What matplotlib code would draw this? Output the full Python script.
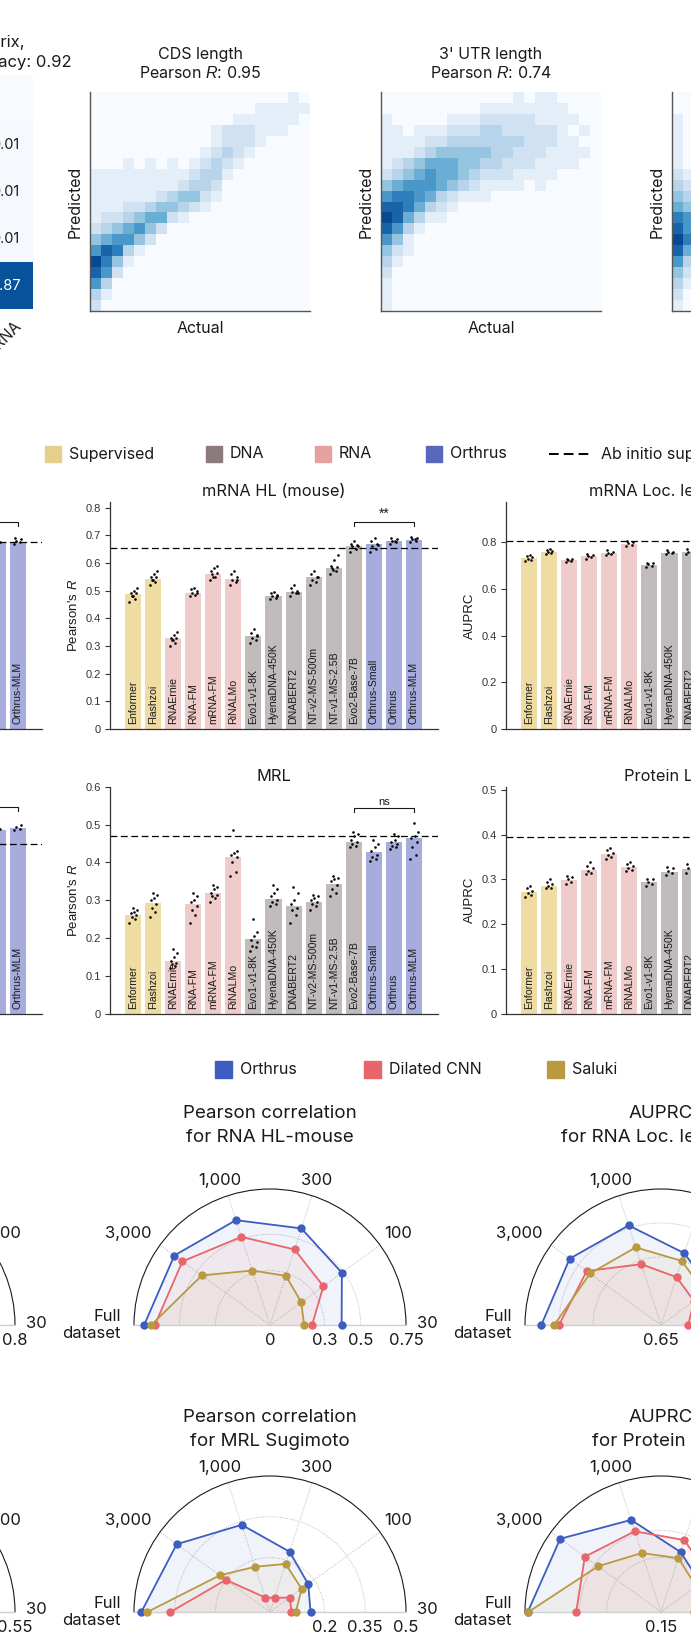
import numpy as np
import matplotlib
matplotlib.use('Agg')
import matplotlib.pyplot as plt
import matplotlib.transforms as mtransforms
from matplotlib.patches import Rectangle
from matplotlib.lines import Line2D

plt.rcParams['font.family'] = ['Inter', 'DejaVu Sans']
plt.rcParams['mathtext.fontset'] = 'custom'
plt.rcParams['mathtext.rm'] = 'Inter'
plt.rcParams['mathtext.it'] = 'Liberation Sans:italic'
plt.rcParams['text.color'] = '#1a1a1a'
plt.rcParams['axes.labelcolor'] = '#1a1a1a'

W, H = 691, 1645
BARFONT = ['Liberation Sans', 'DejaVu Sans']
INK = '#1a1a1a'

# ---------------- data ----------------
# confusion matrix, last column only is in view
conf_last = [0.0, 0.01, 0.01, 0.01, 0.87]

# 2D histogram densities (0-9), rows top -> bottom
cds_grid = [
    "00000000000000000010",
    "00000000000000011111",
    "00000000000001111110",
    "00000000000122211100",
    "00000000000122210000",
    "00000000001232100000",
    "00010101012321000000",
    "11111111123310000000",
    "11111111233200000000",
    "11111123442100000000",
    "11122344321000000000",
    "12234552100000000000",
    "23456420000000000000",
    "45664200000000000000",
    "68731000000000000000",
    "97410000000000000000",
    "86200000000000000000",
    "63000000000000000000",
    "31000000000000000000",
    "20000000000000000000",
]
utr_grid = [
    "00000000000010110000",
    "00000000011111111000",
    "10000011122222111100",
    "11011122233222221010",
    "11112233333332221100",
    "11123444443322211110",
    "12345554433222111100",
    "23456554322211110000",
    "45666543211110100000",
    "67765321110000000000",
    "88753210000000000000",
    "98531100000000000000",
    "86310000000000000000",
    "64100000000000000000",
    "42100000000000000000",
    "31000000000000000000",
    "20000000000000000000",
    "10000000000000000000",
    "10000000000000000000",
    "10000000000000000000",
]
third_grid = [
    "000", "000", "100", "100", "100", "100", "100", "210", "321", "432",
    "543", "764", "864", "973", "852", "631", "420", "310", "200", "100",
]

models = ['Enformer', 'Flashzoi', 'RNAErnie', 'RNA-FM', 'mRNA-FM', 'RiNALMo',
          'Evo1-v1-8K', 'HyenaDNA-450K', 'DNABERT2', 'NT-v2-MS-500m', 'NT-v1-MS-2.5B',
          'Evo2-Base-7B', 'Orthrus-Small', 'Orthrus', 'Orthrus-MLM']
groups = ['sup', 'sup', 'rna', 'rna', 'rna', 'rna', 'dna', 'dna', 'dna', 'dna', 'dna',
          'dna', 'orth', 'orth', 'orth']

hl_mouse = [0.488, 0.543, 0.327, 0.492, 0.560, 0.543, 0.335, 0.481, 0.496, 0.549,
            0.582, 0.662, 0.667, 0.678, 0.683]
hl_mouse_reps = [
    [0.46, 0.47, 0.48, 0.49, 0.49, 0.50, 0.51, 0.48],
    [0.52, 0.53, 0.54, 0.55, 0.55, 0.56, 0.57, 0.54],
    [0.30, 0.31, 0.32, 0.33, 0.33, 0.34, 0.35, 0.32],
    [0.48, 0.485, 0.49, 0.50, 0.505, 0.51, 0.49],
    [0.54, 0.55, 0.56, 0.565, 0.57, 0.58, 0.59, 0.55],
    [0.52, 0.53, 0.54, 0.55, 0.56, 0.57, 0.54],
    [0.31, 0.32, 0.33, 0.34, 0.345, 0.36, 0.335],
    [0.47, 0.475, 0.48, 0.485, 0.49, 0.495, 0.48],
    [0.48, 0.49, 0.495, 0.50, 0.51, 0.52, 0.49],
    [0.52, 0.53, 0.54, 0.55, 0.56, 0.57, 0.55],
    [0.56, 0.57, 0.58, 0.585, 0.59, 0.61, 0.63, 0.575],
    [0.64, 0.65, 0.66, 0.665, 0.67, 0.68, 0.66],
    [0.64, 0.65, 0.66, 0.67, 0.68, 0.69, 0.665],
    [0.67, 0.675, 0.68, 0.685, 0.69, 0.68],
    [0.675, 0.68, 0.685, 0.69, 0.695, 0.685],
]
mrl = [0.262, 0.294, 0.138, 0.291, 0.320, 0.414, 0.197, 0.304, 0.285, 0.295,
       0.342, 0.454, 0.427, 0.454, 0.465]
mrl_reps = [
    [0.24, 0.25, 0.255, 0.26, 0.265, 0.27, 0.275, 0.28],
    [0.255, 0.27, 0.28, 0.29, 0.30, 0.305, 0.315, 0.32],
    [0.12, 0.125, 0.13, 0.135, 0.14, 0.15, 0.16, 0.17],
    [0.24, 0.26, 0.275, 0.285, 0.295, 0.30, 0.31, 0.32],
    [0.295, 0.305, 0.31, 0.315, 0.32, 0.33, 0.335, 0.34],
    [0.365, 0.375, 0.40, 0.415, 0.42, 0.425, 0.43, 0.485],
    [0.165, 0.175, 0.18, 0.19, 0.195, 0.205, 0.215, 0.25],
    [0.285, 0.29, 0.295, 0.30, 0.31, 0.32, 0.33, 0.34],
    [0.24, 0.26, 0.275, 0.28, 0.29, 0.30, 0.32, 0.335],
    [0.275, 0.285, 0.29, 0.295, 0.30, 0.305, 0.31, 0.315],
    [0.31, 0.32, 0.33, 0.34, 0.35, 0.355, 0.36, 0.365],
    [0.44, 0.445, 0.45, 0.455, 0.46, 0.47, 0.475, 0.48],
    [0.405, 0.41, 0.415, 0.42, 0.43, 0.44, 0.45, 0.46],
    [0.435, 0.44, 0.445, 0.45, 0.455, 0.46, 0.47, 0.475],
    [0.41, 0.42, 0.44, 0.455, 0.465, 0.47, 0.48, 0.505],
]
loc_ietswaart = [0.733, 0.758, 0.724, 0.740, 0.754, 0.794, 0.704, 0.755, 0.758]
loc_reps = [
    [0.72, 0.725, 0.73, 0.735, 0.74, 0.745],
    [0.75, 0.755, 0.76, 0.762, 0.765, 0.77],
    [0.715, 0.72, 0.725, 0.73, 0.728],
    [0.73, 0.735, 0.74, 0.745, 0.75],
    [0.745, 0.75, 0.755, 0.76, 0.765],
    [0.785, 0.79, 0.795, 0.80, 0.805],
    [0.695, 0.70, 0.705, 0.71, 0.712],
    [0.75, 0.755, 0.758, 0.76, 0.765],
    [0.75, 0.755, 0.76, 0.765, 0.77],
]
prot_loc = [0.271, 0.285, 0.298, 0.321, 0.356, 0.327, 0.295, 0.316, 0.324]
prot_reps = [
    [0.26, 0.265, 0.27, 0.275, 0.28, 0.285],
    [0.28, 0.282, 0.285, 0.29, 0.295, 0.30],
    [0.29, 0.295, 0.30, 0.305, 0.308],
    [0.312, 0.315, 0.32, 0.325, 0.33, 0.338],
    [0.345, 0.35, 0.355, 0.36, 0.365, 0.37],
    [0.318, 0.322, 0.326, 0.33, 0.335, 0.338],
    [0.285, 0.29, 0.295, 0.30, 0.302],
    [0.31, 0.315, 0.32, 0.325, 0.328],
    [0.315, 0.32, 0.325, 0.33, 0.335],
]
# left-hand panels, only the last two bars are in view
hl_other = [0.676, 0.676]
hl_other_reps = [[0.672, 0.676, 0.68], [0.67, 0.675, 0.68, 0.685, 0.69]]
mrl_other = [0.487, 0.491]
mrl_other_reps = [[0.485, 0.49], [0.485, 0.49, 0.495, 0.50]]

# radar charts: spokes Full, 3000, 1000, 300, 100, 30
spoke_deg = [180, 144, 108, 72, 36, 0]
spoke_lab = ['Full\ndataset', '3,000', '1,000', '300', '100', '30']
hl_orthrus = [0.694, 0.652, 0.608, 0.560, 0.490, 0.395]
hl_cnn = [0.635, 0.597, 0.511, 0.438, 0.364, 0.232]
hl_saluki = [0.655, 0.465, 0.316, 0.285, 0.213, 0.188]
mrl_orthrus = [0.473, 0.424, 0.337, 0.233, 0.174, 0.149]
mrl_cnn = [0.366, 0.201, 0.056, 0.055, 0.090, 0.079]
mrl_saluki = [0.451, 0.229, 0.175, 0.186, 0.144, 0.095]
rloc_orthrus = [0.826, 0.816, 0.804, 0.761, 0.740, 0.720]
rloc_cnn = [0.800, 0.785, 0.744, 0.724, 0.710, 0.690]
rloc_saluki = [0.807, 0.779, 0.770, 0.749, 0.730, 0.710]
ploc_orthrus = [0.395, 0.379, 0.328, 0.266, 0.240, 0.220]
ploc_cnn = [0.306, 0.323, 0.306, 0.289, 0.260, 0.230]
ploc_saluki = [0.394, 0.293, 0.264, 0.254, 0.230, 0.210]

# ---------------- style ----------------
bar_col = {'sup': '#efdca3', 'rna': '#efcbc9', 'dna': '#c1bbbc', 'orth': '#a6acdc'}
leg_col = {'sup': '#e5cf8d', 'dna': '#8b7a7e', 'rna': '#e3a29d', 'orth': '#5767bd'}
radar_col = {'Orthrus': '#3c5cbf', 'Dilated CNN': '#e8656b', 'Saluki': '#b99a40'}
jit = np.array([-0.2, 0.12, -0.08, 0.18, -0.14, 0.04, 0.22, -0.02])

fig = plt.figure(figsize=(W / 100, H / 100), dpi=100)


def px(x0, y0, x1, y1):
    return [x0 / W, 1 - y1 / H, (x1 - x0) / W, (y1 - y0) / H]


def ftext(x, y, s, **kw):
    fig.text(x / W, 1 - y / H, s, **kw)


def grid_arr(rows):
    return np.array([[int(c) for c in r] for r in rows], float)


# ---------------- top row: confusion matrix + density plots ----------------
ax = fig.add_axes(px(-22, 75, 33, 309))
ax.imshow(np.array(conf_last)[:, None], cmap='Blues', vmin=0, vmax=1, aspect='auto')
for i, v in enumerate(conf_last):
    if v > 0:
        ax.text(0, i, f'{v:.2f}', ha='center', va='center', fontsize=10.5,
                color='white' if v > 0.5 else INK)
ax.axis('off')
ftext(25, 43, 'Confusion matrix,', ha='right', va='center', fontsize=12)
ftext(72, 63, 'Balanced accuracy: 0.92', ha='right', va='center', fontsize=12)
ftext(14, 318, 'lncRNA', ha='right', va='top', rotation=45, rotation_mode='anchor',
      fontsize=11)


def density_panel(x0, rows, title=None):
    ax = fig.add_axes(px(x0, 92, x0 + 220, 311))
    g = grid_arr(rows)[::-1]
    ax.set_facecolor(plt.cm.Blues(0.0))
    ax.pcolormesh(np.arange(g.shape[1] + 1), np.arange(g.shape[0] + 1), g,
                  cmap='Blues', vmin=0, vmax=10)
    ax.set_xlim(0, 20)
    ax.set_ylim(0, 20)
    ax.set_xticks([])
    ax.set_yticks([])
    for s in ('top', 'right'):
        ax.spines[s].set_visible(False)
    for s in ('left', 'bottom'):
        ax.spines[s].set_color('#555555')
        ax.spines[s].set_linewidth(1.0)
    ax.set_ylabel('Predicted', fontsize=11.5, labelpad=5)
    ax.set_xlabel('Actual', fontsize=11.5, labelpad=7)
    if title:
        ax.set_title(title, fontsize=11.5, pad=10, linespacing=1.25)


density_panel(90, cds_grid, 'CDS length\nPearson $\\mathit{R}$: 0.95')
density_panel(381, utr_grid, "3' UTR length\nPearson $\\mathit{R}$: 0.74")
density_panel(672, third_grid)

# ---------------- bar chart legend ----------------
for key, lab, x in [('sup', 'Supervised', 45), ('dna', 'DNA', 206),
                    ('rna', 'RNA', 315), ('orth', 'Orthrus', 426)]:
    fig.add_artist(Rectangle((x / W, 1 - 462 / H), 16 / W, 16 / H,
                             transform=fig.transFigure, color=leg_col[key]))
    ftext(x + 24, 454, lab, va='center', fontsize=11.5)
fig.add_artist(Line2D([549 / W, 591 / W], [1 - 454 / H] * 2, transform=fig.transFigure,
                      color='black', lw=1.4, dashes=(5.0, 2.6)))
ftext(601, 454, 'Ab initio supervised', va='center', fontsize=11.5)


# ---------------- bar panels ----------------
def bar_panel(x0, ytop, ybot, idx, means, reps, ylim, yticks, ylabel, title, base,
              bracket=None):
    ax = fig.add_axes(px(x0, ytop, x0 + 328, ybot))
    pos = np.array(idx, float)
    ax.bar(pos, means, width=0.8, color=[bar_col[groups[i]] for i in idx], zorder=1)
    for p, r in zip(pos, reps):
        ax.scatter(p + jit[:len(r)] * 0.9, r, s=3.5, color='black', linewidths=0, zorder=3)
    for p, i in zip(pos, idx):
        ax.annotate(models[i], (p, 0), xytext=(0, 3.5), textcoords='offset points',
                    rotation=90, ha='center', va='bottom', fontsize=7.6,
                    family=BARFONT, color=INK, zorder=4)
    ax.axhline(base, color='black', lw=0.9, dashes=(5.5, 2.8), zorder=2)
    if bracket:
        a, b, y, lab, fs = bracket
        d = (ylim[1] - ylim[0]) * 0.018
        ax.plot([a, a, b, b], [y - d, y, y, y - d], color=INK, lw=0.8)
        ax.text((a + b) / 2, y + d * 0.4, lab, ha='center', va='bottom', fontsize=fs,
                family=BARFONT)
    ax.set_xlim(-1.15, 15.2)
    ax.set_ylim(*ylim)
    ax.set_xticks([])
    ax.set_yticks(yticks, labels=['0' if t == 0 else f'{t:g}' for t in yticks],
                  fontsize=8, family=BARFONT, color='#333333')
    ax.tick_params(axis='y', length=3.5, width=0.8, color='#333333', pad=3)
    for s in ('top', 'right'):
        ax.spines[s].set_visible(False)
    for s in ('left', 'bottom'):
        ax.spines[s].set_color('#333333')
        ax.spines[s].set_linewidth(0.9)
    ax.set_ylabel(ylabel, fontsize=9.5, family=BARFONT, labelpad=4)
    if title:
        ax.set_title(title, fontsize=11.8, pad=4)
    return ax


hl_ticks = [0, 0.1, 0.2, 0.3, 0.4, 0.5, 0.6, 0.7, 0.8]
mrl_ticks = [0, 0.1, 0.2, 0.3, 0.4, 0.5, 0.6]
bar_panel(-286, 502, 729, [13, 14], hl_other, hl_other_reps, (0, 0.82), hl_ticks,
          "Pearson's $\\mathit{R}$", None, 0.676, (11, 14, 0.748, '', 9))
bar_panel(110, 502, 729, list(range(15)), hl_mouse, hl_mouse_reps, (0, 0.82), hl_ticks,
          "Pearson's $\\mathit{R}$", 'mRNA HL (mouse)', 0.655, (11, 14, 0.748, '**', 10))
bar_panel(506, 502, 729, list(range(9)), loc_ietswaart, loc_reps, (0, 0.972),
          [0, 0.2, 0.4, 0.6, 0.8], 'AUPRC', 'mRNA Loc. Ietswaart', 0.803)
bar_panel(-286, 787, 1013.5, [13, 14], mrl_other, mrl_other_reps, (0, 0.6), mrl_ticks,
          "Pearson's $\\mathit{R}$", None, 0.448, (11, 14, 0.547, '', 8))
bar_panel(110, 787, 1013.5, list(range(15)), mrl, mrl_reps, (0, 0.6), mrl_ticks,
          "Pearson's $\\mathit{R}$", 'MRL', 0.470, (11, 14, 0.544, 'ns', 8))
bar_panel(506, 787, 1013.5, list(range(9)), prot_loc, prot_reps, (0, 0.507),
          [0, 0.1, 0.2, 0.3, 0.4, 0.5], 'AUPRC', 'Protein Loc.', 0.396)

# ---------------- radar legend ----------------
for lab, x in [('Orthrus', 215), ('Dilated CNN', 364), ('Saluki', 547)]:
    fig.add_artist(Rectangle((x / W, 1 - 1078 / H), 17 / W, 17 / H,
                             transform=fig.transFigure, color=radar_col[lab]))
    ftext(x + 25, 1069.5, lab, va='center', fontsize=11.5)

# label layout round the arc: (ha, va, dx, dy) in pixels
spoke_layout = [('right', 'center', -13, 0), ('right', 'bottom', -8, 4),
                ('center', 'bottom', -8, 8), ('center', 'bottom', 5, 8),
                ('left', 'bottom', 4, 4), ('left', 'center', 11, 2)]


def radar(cx, base, rlim, grid_r, rlabels, series, title=None):
    R = 136
    # a half-disc is fitted into a square box, centred vertically
    ax = fig.add_axes(px(cx - R, base - 1.5 * R, cx + R, base + 0.5 * R),
                      projection='polar')
    ax.set_thetamin(0)
    ax.set_thetamax(180)
    ax.set_ylim(*rlim)
    th = np.deg2rad(spoke_deg)
    ax.set_xticks(th)
    ax.set_xticklabels([])
    ax.set_yticks(grid_r)
    ax.set_yticklabels([])
    ax.tick_params(length=0)
    ax.grid(True, color='#b8b8b8', ls=(0, (1, 1.5)), lw=0.7)
    ax.spines['polar'].set_color(INK)
    ax.spines['polar'].set_linewidth(0.8)
    for s in ('start', 'end'):
        ax.spines[s].set_color('#d0d0d0')
        ax.spines[s].set_linewidth(1.0)
    ax.spines['inner'].set_visible(False)
    for name, vals in series:
        c = radar_col[name]
        ax.fill(th, vals, color=c, alpha=0.07, lw=0, zorder=2)
        ax.plot(th, vals, '-o', color=c, lw=1.3, ms=5, zorder=3, clip_on=False)
    for t, lab, (ha, va, dx, dy) in zip(th, spoke_lab, spoke_layout):
        tr = mtransforms.offset_copy(ax.transData, fig=fig, x=dx, y=dy, units='dots')
        ax.text(t, rlim[1], lab, transform=tr, ha=ha, va=va, fontsize=12,
                linespacing=1.1, clip_on=False)
    tr = mtransforms.offset_copy(ax.transData, fig=fig, x=0, y=-8, units='dots')
    for r, lab in rlabels:
        ax.text(0, r, lab, transform=tr, ha='center', va='top', fontsize=12,
                clip_on=False)
    if title:
        ftext(cx, base - title[2], title[0], ha='center', va='center', fontsize=13.5)
        ftext(cx, base - title[2] + 25, title[1], ha='center', va='center', fontsize=13.5)


radar(-121, 1325, (0.3, 0.8), [0.5, 0.65], [(0.8, '0.8')], [])
radar(270, 1325, (0, 0.75), [0.3, 0.5],
      [(0, '0'), (0.3, '0.3'), (0.5, '0.5'), (0.75, '0.75')],
      [('Orthrus', hl_orthrus), ('Dilated CNN', hl_cnn), ('Saluki', hl_saluki)],
      ('Pearson correlation', 'for RNA HL-mouse', 212))
radar(661, 1325, (0.65, 0.85), [0.75, 0.8],
      [(0.65, '0.65'), (0.75, '0.75'), (0.85, '0.85')],
      [('Orthrus', rloc_orthrus), ('Dilated CNN', rloc_cnn), ('Saluki', rloc_saluki)],
      ('AUPRC', 'for RNA Loc. Ietswaart', 212))
radar(-121, 1612, (0.1, 0.55), [0.3, 0.4], [(0.55, '0.55')], [])
radar(270, 1612, (0, 0.5), [0.2, 0.35],
      [(0.2, '0.2'), (0.35, '0.35'), (0.5, '0.5')],
      [('Orthrus', mrl_orthrus), ('Dilated CNN', mrl_cnn), ('Saluki', mrl_saluki)],
      ('Pearson correlation', 'for MRL Sugimoto', 195))
radar(661, 1612, (0.15, 0.4), [0.25, 0.3],
      [(0.15, '0.15'), (0.3, '0.3'), (0.4, '0.4')],
      [('Orthrus', ploc_orthrus), ('Dilated CNN', ploc_cnn), ('Saluki', ploc_saluki)],
      ('AUPRC', 'for Protein Loc.', 195))

fig.savefig('out.png', dpi=100)
